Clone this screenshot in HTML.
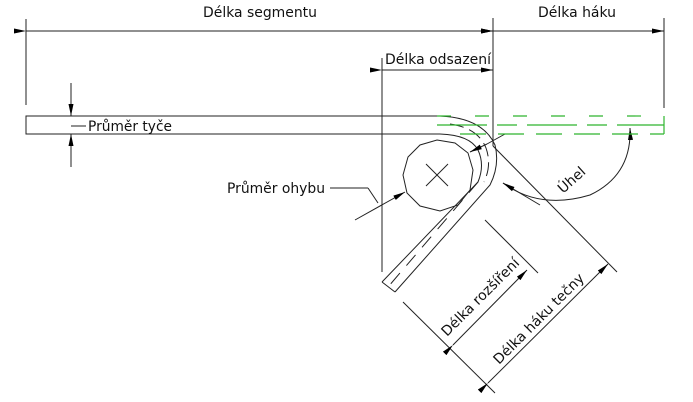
<!DOCTYPE html>
<html><head><meta charset="utf-8"><style>
html,body{margin:0;padding:0;background:#fff;}
svg{display:block;}
text{font-family:"DejaVu Sans","Liberation Sans",sans-serif;font-size:14px;fill:#111;}
</style></head><body>
<svg width="693" height="402" viewBox="0 0 693 402" xmlns="http://www.w3.org/2000/svg">
<defs>
<marker id="a" viewBox="0 0 12 6" refX="12" refY="3" markerWidth="12" markerHeight="6" orient="auto" markerUnits="userSpaceOnUse"><path d="M0,0.5 L12,3 L0,5.5z" fill="#000"/></marker>
</defs>
<g stroke="#222" stroke-width="1" fill="none">
<line x1="26" y1="19" x2="26" y2="105"/>
<line x1="493" y1="18" x2="493" y2="146"/>
<line x1="664" y1="18" x2="664" y2="108"/>
<line x1="382" y1="58" x2="382" y2="272"/>
<line x1="26" y1="31" x2="493" y2="31" marker-start="url(#a)" marker-end="url(#a)"/>
<line x1="493" y1="31" x2="664" y2="31" marker-start="url(#a)" marker-end="url(#a)"/>
<line x1="382" y1="70" x2="493" y2="70" marker-start="url(#a)" marker-end="url(#a)"/>
<path d="M440,116 L26,116 L26,134 L440,134"/>
<line x1="71" y1="83" x2="71" y2="116" marker-end="url(#a)"/>
<line x1="71" y1="167" x2="71" y2="134" marker-end="url(#a)"/>
<line x1="71" y1="126" x2="86" y2="126"/>
<polygon points="437,140 455,143 468,153 473,170 470,190 458,205 440,211 420,206 407,193 403,175 408,157 420,145"/>
<line x1="426" y1="164" x2="448" y2="186"/>
<line x1="448" y1="164" x2="426" y2="186"/>
<path d="M440,116 Q483,118 495,145 Q500,165 490,185 L395,292"/>
<path d="M440,134 Q470,135 478,150 Q485,165 478,182 L382,282"/>
<path d="M382,282 L395,292"/>
<path d="M450,124 Q478,128 486,148 Q492,165 484,182" stroke-dasharray="14,6"/>
<path d="M478,182 L388,287" stroke-dasharray="14,10"/>
<line x1="330" y1="188" x2="368" y2="188"/>
<line x1="368" y1="188" x2="378" y2="203"/>
<line x1="355" y1="220" x2="405" y2="192" marker-end="url(#a)"/>
<line x1="487" y1="144" x2="470" y2="152" marker-end="url(#a)"/>
<line x1="487" y1="144" x2="505" y2="134"/>
<path d="M503,183 Q540,210 590,195 Q632,175 630,128" marker-end="url(#a)"/>
<line x1="540" y1="205" x2="503" y2="183" marker-end="url(#a)"/>
<line x1="617" y1="125" x2="650" y2="125"/>
<line x1="493" y1="146" x2="617" y2="272"/>
<line x1="403" y1="302" x2="495" y2="393"/>
<line x1="485" y1="220" x2="538" y2="273"/>
<line x1="453" y1="345" x2="527" y2="270" marker-start="url(#a)" marker-end="url(#a)"/>
<line x1="488" y1="383" x2="608" y2="264" marker-start="url(#a)" marker-end="url(#a)"/>
</g>
<g stroke="#2fb52f" stroke-width="1.2" fill="none">
<line x1="437" y1="116" x2="664" y2="116" stroke-dasharray="14,24"/>
<line x1="437" y1="125" x2="664" y2="125" stroke-dasharray="50,10,20,10"/>
<line x1="460" y1="134" x2="664" y2="134" stroke-dasharray="26,12"/>
<line x1="664" y1="116" x2="664" y2="134"/>
</g>
<text x="203" y="17" textLength="114" lengthAdjust="spacingAndGlyphs">Délka segmentu</text>
<text x="538" y="17" textLength="78" lengthAdjust="spacingAndGlyphs">Délka háku</text>
<text x="385" y="64" textLength="106" lengthAdjust="spacingAndGlyphs">Délka odsazení</text>
<text x="88" y="131" textLength="84" lengthAdjust="spacingAndGlyphs">Průměr tyče</text>
<text x="227" y="193" textLength="98" lengthAdjust="spacingAndGlyphs">Průměr ohybu</text>
<text x="0" y="0" transform="translate(563,194) rotate(-42)">Úhel</text>
<text x="0" y="0" transform="translate(447,337) rotate(-45)">Délka rozšíření</text>
<text x="0" y="0" transform="translate(499,365) rotate(-45)">Délka háku tečny</text>
</svg>
</body></html>
